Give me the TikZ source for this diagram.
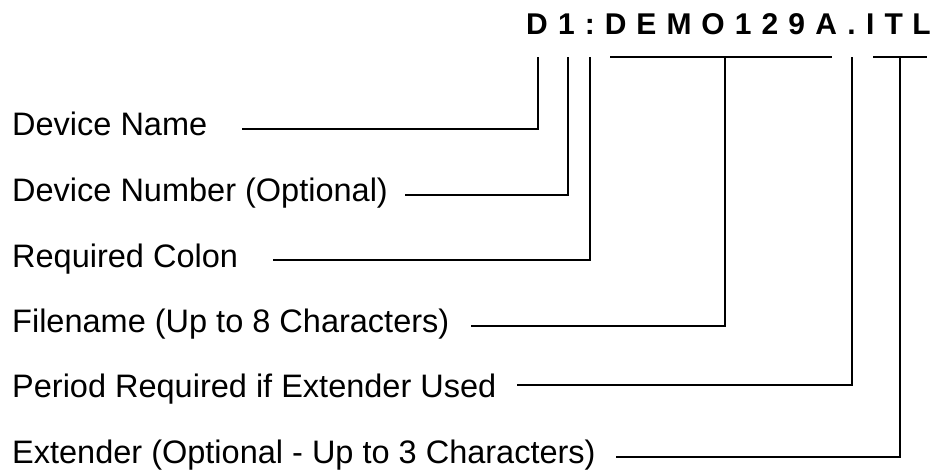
\documentclass[tikz,border=0pt]{standalone}
\usepackage{fontspec}
\setmainfont{Liberation Sans}
\begin{document}
\begin{tikzpicture}[x=1pt,y=-1pt,
  lbl/.style={inner sep=0pt,anchor=base west,font=\fontsize{32.5}{39}\selectfont},
  chr/.style={inner sep=0pt,anchor=base,font=\fontsize{30}{36}\selectfont\bfseries},
  conn/.style={line width=2.6pt,line join=miter,draw=black}]
\useasboundingbox (0,0) rectangle (931,470);
% file specification characters
\node[chr] (c1)  at (537,35)   {D};
\node[chr] (c2)  at (566.4,35) {1};
\node[chr] (c3)  at (589.8,35) {:};
\node[chr] (c4)  at (615.8,35) {D};
\node[chr] (c5)  at (646.4,35) {E};
\node[chr] (c6)  at (679.1,35) {M};
\node[chr] (c7)  at (713.1,35) {O};
\node[chr] (c8)  at (743.2,35) {1};
\node[chr] (c9)  at (770.0,35) {2};
\node[chr] (c10) at (796.8,35) {9};
\node[chr] (c11) at (826.1,35) {A};
\node[chr] (c12) at (851.6,35) {.};
\node[chr] (c13) at (870.3,35) {I};
\node[chr] (c14) at (893.7,35) {T};
\node[chr] (c15) at (921.6,35) {L};
% labels
\node[lbl] (l1) at (12,136) {Device Name};
\node[lbl] (l2) at (12,202) {Device Number (Optional)};
\node[lbl] (l3) at (12,267) {Required Colon};
\node[lbl] (l4) at (12,332) {Filename (Up to 8 Characters)};
\node[lbl] (l5) at (12,397) {Period Required if Extender Used};
\node[lbl] (l6) at (12,463) {Extender (Optional - Up to 3 Characters)};
% connector start points
\coordinate (s1) at (242,129);
\coordinate (s2) at (405,195);
\coordinate (s3) at (273,260);
\coordinate (s4) at (471,326);
\coordinate (s5) at (517,385);
\coordinate (s6) at (616,457);
% connector top points
\coordinate (t1) at (538,57);
\coordinate (t2) at (568,57);
\coordinate (t3) at (590,57);
\coordinate (t4) at (725,57);
\coordinate (t5) at (852,57);
\coordinate (t6) at (900,57);
% brackets
\coordinate (b1l) at (610,57);
\coordinate (b1r) at (832,57);
\coordinate (b2l) at (873,57);
\coordinate (b2r) at (927,57);
\draw[conn] (b1l) -- (b1r);
\draw[conn] (b2l) -- (b2r);
\draw[conn] (s1) -| (t1);
\draw[conn] (s2) -| (t2);
\draw[conn] (s3) -| (t3);
\draw[conn] (s4) -| (t4);
\draw[conn] (s5) -| (t5);
\draw[conn] (s6) -| (t6);
\end{tikzpicture}
\end{document}
